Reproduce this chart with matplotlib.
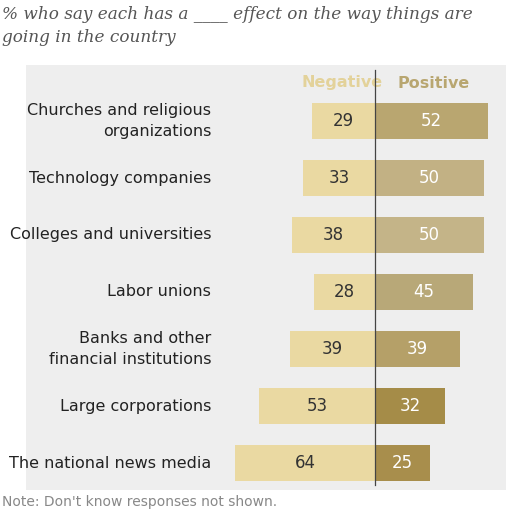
import matplotlib.pyplot as plt
from matplotlib.patches import Rectangle

categories = ["Churches and religious\norganizations", "Technology companies",
              "Colleges and universities", "Labor unions",
              "Banks and other\nfinancial institutions", "Large corporations",
              "The national news media"]
negative = [29, 33, 38, 28, 39, 53, 64]
positive = [52, 50, 50, 45, 39, 32, 25]
pos_colors = ["#b9a670", "#c2b184", "#c4b488", "#b8a878", "#b5a068", "#a58c48", "#a88e4c"]

fig = plt.figure(figsize=(5.12, 5.12), dpi=100)
ax = fig.add_axes([0, 0, 1, 1])
scale = 2.18
ax.set_xlim(-375 / scale, (512 - 375) / scale)
ax.set_ylim(512, 0)
ax.axis("off")

# soft grey background
ax.add_patch(Rectangle((-160, 65), 220, 425, color="#e4e4e4", zorder=0, alpha=0.6, lw=0))

ys = [121 + 57 * i for i in range(len(categories))]
for y, cat, n, p, pc in zip(ys, categories, negative, positive, pos_colors):
    ax.barh(y, -n, height=36, color="#ead9a2", zorder=2)
    ax.barh(y, p, height=36, color=pc, zorder=2)
    ax.text(-n / 2, y, str(n), ha="center", va="center", fontsize=12, color="#333333", zorder=3)
    ax.text(p / 2, y, str(p), ha="center", va="center", fontsize=12, color="white", zorder=3)
    ax.text((211 - 375) / scale, y, cat, ha="right", va="center", fontsize=11.5,
            color="#222222", linespacing=1.5, zorder=3)

ax.plot([0, 0], [70, 485], color="#444444", lw=0.9, zorder=4)
ax.text(-15, 83, "Negative", ha="center", va="center", fontsize=11.5, fontweight="bold", color="#e3d29a")
ax.text(27, 83, "Positive", ha="center", va="center", fontsize=11.5, fontweight="bold", color="#b8a670")

ax.text(-375 / scale + 1, 6, "% who say each has a ____ effect on the way things are\ngoing in the country",
        ha="left", va="top", fontsize=12.2, family="DejaVu Serif", style="italic",
        color="#555555", linespacing=1.45)
ax.text(-375 / scale + 1, 502, "Note: Don't know responses not shown.", ha="left", va="center",
        fontsize=10, color="#888888")

fig.savefig("out.png", dpi=100)
